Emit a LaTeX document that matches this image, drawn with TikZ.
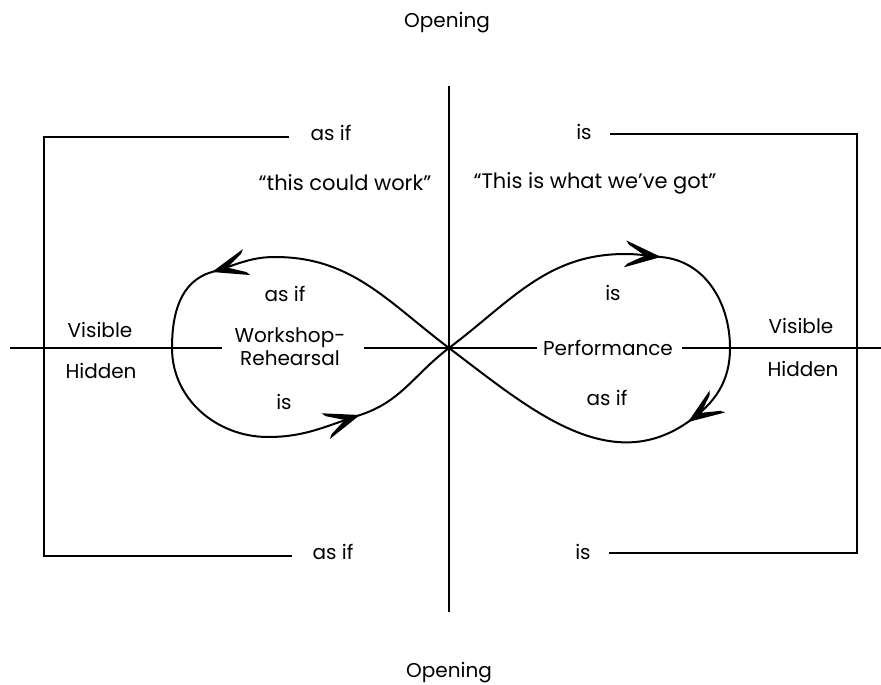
\documentclass[tikz,border=0pt]{standalone}
\usepackage{fontspec}
\setmainfont{Poppins}
\begin{document}
\begin{tikzpicture}[x=1pt,y=1pt,
  txt/.style={font=\fontsize{20}{23}\selectfont, inner sep=0pt, text=black},
  qtxt/.style={font=\fontsize{21}{24}\selectfont, inner sep=0pt, text=black},
  boxline/.style={line width=2.6pt, line join=miter},
  axis/.style={line width=2.2pt},
  loopline/.style={line width=2pt},
  barbhead/.pic={\fill (0,0) -- (-36,13.5) -- (-33,9.5) -- (-16,0) -- (-33,-9.5) -- (-36,-13.5) -- cycle;}
]
\useasboundingbox (0,0) rectangle (881,-685);
% texts
\node[txt] (open1) at (447,-23) {Opening};
\node[txt] (open2) at (449,-673) {Opening};
\node[txt] (asif1) at (331,-133) {as if};
\node[txt] (asif2) at (333,-552) {as if};
\node[txt] (is1) at (584,-132) {is};
\node[txt] (is2) at (583,-552) {is};
\node[qtxt] (could) at (345,-183) {“this could work”};
\node[qtxt] (got) at (595,-183) {“This is what we’ve got”};
\node[txt] (vis1) at (100,-330) {Visible};
\node[txt] (hid1) at (101,-371) {Hidden};
\node[txt] (vis2) at (801,-326) {Visible};
\node[txt] (hid2) at (803,-369) {Hidden};
\node[txt] (asif3) at (285,-294) {as if};
\node[txt,align=center] (ws) at (290,-347) {Workshop-\\Rehearsal};
\node[txt] (is3) at (284,-402) {is};
\node[txt] (is4) at (613,-293) {is};
\node[txt] (perf) at (608,-348) {Performance};
\node[txt] (asif4) at (607,-398) {as if};
% coordinates
\coordinate (tle) at (289,-137);
\coordinate (tl) at (44,-137);
\coordinate (bl) at (44,-556);
\coordinate (ble) at (292,-556);
\coordinate (tre) at (610,-134);
\coordinate (tr) at (857,-134);
\coordinate (br) at (857,-553);
\coordinate (bre) at (609,-553);
\coordinate (vtop) at (449,-86);
\coordinate (vbot) at (449,-612);
\coordinate (hL) at (10,-348);
\coordinate (hL1) at (222,-348);
\coordinate (hM0) at (364,-348);
\coordinate (hM1) at (537,-348);
\coordinate (hR0) at (682,-348);
\coordinate (hR) at (881,-348);
% box and axes
\draw[boxline] (tle) -- (tl) -- (bl) -- (ble);
\draw[boxline] (tre) -- (tr) -- (br) -- (bre);
\draw[axis] (vtop) -- (vbot);
\draw[axis] (hL) -- (hL1);
\draw[axis] (hM0) -- (hM1);
\draw[axis] (hR0) -- (hR);
% figure eight
\coordinate (C) at (449,-348);
\coordinate (TL) at (275,-257);
\coordinate (A) at (212,-272);
\coordinate (L) at (172,-348);
\coordinate (BL) at (268,-437);
\coordinate (B) at (360,-415);
\coordinate (TR) at (625,-254);
\coordinate (D) at (661,-257);
\coordinate (R) at (730,-348);
\coordinate (E) at (688,-422);
\draw[loopline] (C) to[out=143,in=0] (TL) to[out=180,in=16] (A)
  to[out=196,in=90] (L) to[out=-90,in=180] (BL) to[out=0,in=198] (B)
  to[out=18,in=217] (C) to[out=37,in=180] (TR) to[out=0,in=175] (D)
  to[out=-5,in=90] (R) to[out=-90,in=35] (E)
  to[out=215,in=-37] (C);
\pic[rotate=196] at (A) {barbhead};
\pic[rotate=18] at (B) {barbhead};
\pic[rotate=-5] at (D) {barbhead};
\pic[rotate=215] at (E) {barbhead};
\fill (C) circle (2.5pt);
\end{tikzpicture}
\end{document}
